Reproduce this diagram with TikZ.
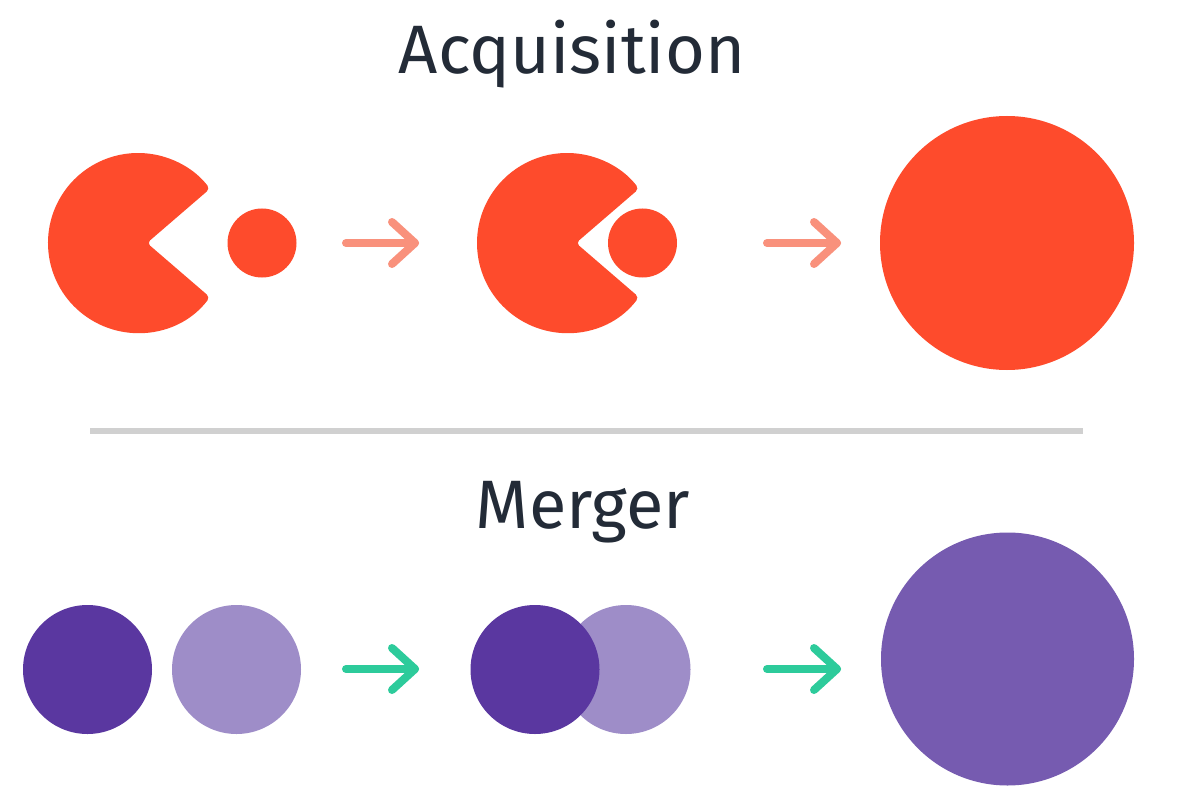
\documentclass[tikz,border=0pt]{standalone}
\usepackage{fontspec}
\setmainfont{Fira Sans}
\usetikzlibrary{calc}
\definecolor{acqred}{HTML}{FE4B2C}
\definecolor{salmon}{HTML}{F9917C}
\definecolor{darkpurple}{HTML}{5A37A0}
\definecolor{lightpurple}{HTML}{9E8DC8}
\definecolor{midpurple}{HTML}{765BB0}
\definecolor{mint}{HTML}{2DCB9B}
\definecolor{ink}{HTML}{232B37}
\definecolor{sepgray}{HTML}{D0D0D0}
\tikzset{
  disc/.style={circle, inner sep=0pt, draw=none},
  title/.style={anchor=base, text=ink, font=\fontsize{68.5}{80}\selectfont},
  arrowline/.style={line width=8pt, line cap=round, line join=round},
}
\newcommand{\pacman}[3]{% center, radius, colour
  \fill[#3, rounded corners=4pt] ($(#1)+(9,0)$) -- ($(#1)+(37:#2)$) arc[start angle=37, end angle=323, radius=#2] -- cycle;
}
\newcommand{\myarrow}[3]{% start, end, colour
  \draw[arrowline, #3] (#1) -- (#2);
  \draw[arrowline, #3] ($(#2)+(-23,-21)$) -- (#2) -- ($(#2)+(-23,21)$);
}
\begin{document}
\begin{tikzpicture}[x=1pt, y=-1pt]
\useasboundingbox[fill=white] (0,0) rectangle (1177,802);

% Titles
\node[title] (tacq) at (572,74) {Acquisition};
\node[title] (tmer) at (583,528) {Merger};

% Separator
\coordinate (sepL) at (90,431);
\coordinate (sepR) at (1083,431);
\draw[sepgray, line width=6pt] (sepL) -- (sepR);

% Acquisition row
\coordinate (p1) at (138,243);
\pacman{p1}{90}{acqred}
\node[disc, fill=acqred, minimum size=69pt] (s1) at (262,243) {};
\coordinate (a1s) at (346,243);
\coordinate (a1e) at (415,243);
\myarrow{a1s}{a1e}{salmon}

\coordinate (p2) at (567,243);
\pacman{p2}{90}{acqred}
\node[disc, fill=acqred, minimum size=69pt] (s2) at (642.5,243) {};
\coordinate (a2s) at (767,243);
\coordinate (a2e) at (837,243);
\myarrow{a2s}{a2e}{salmon}

\node[disc, fill=acqred, minimum size=254pt] (big1) at (1007,243) {};

% Merger row
\node[disc, fill=darkpurple, minimum size=129pt] (m1) at (87.5,669.5) {};
\node[disc, fill=lightpurple, minimum size=129pt] (m2) at (236.5,669.5) {};
\coordinate (a3s) at (346,669);
\coordinate (a3e) at (415,669);
\myarrow{a3s}{a3e}{mint}

\node[disc, fill=lightpurple, minimum size=129pt] (m4) at (626,669.5) {};
\node[disc, fill=darkpurple, minimum size=129pt] (m3) at (535,669.5) {};
\coordinate (a4s) at (767,669);
\coordinate (a4e) at (837,669);
\myarrow{a4s}{a4e}{mint}

\node[disc, fill=midpurple, minimum size=253pt] (big2) at (1007.5,659) {};
\end{tikzpicture}
\end{document}
